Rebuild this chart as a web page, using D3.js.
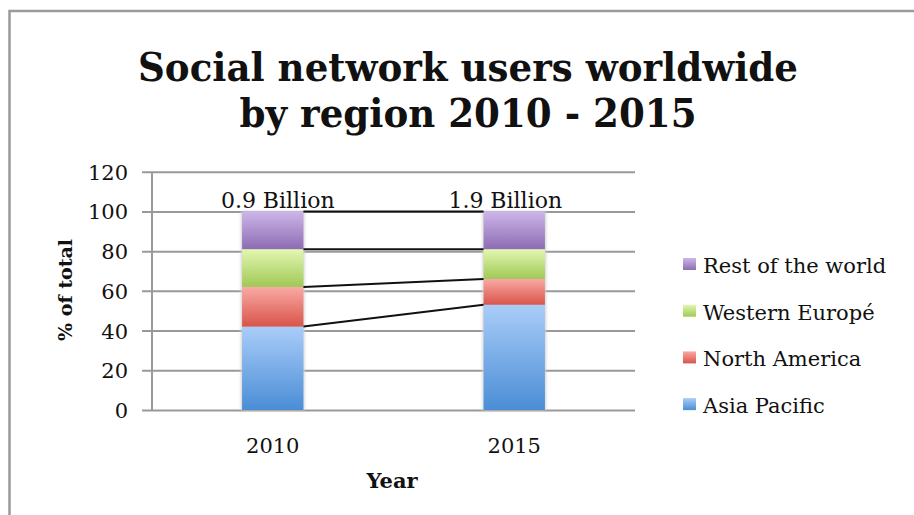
<!DOCTYPE html>
<html>
<head>
<meta charset="utf-8">
<script src="https://cdn.jsdelivr.net/npm/d3@7"></script>
<style>
  html, body { margin: 0; padding: 0; background: #fff; }
  svg { display: block; }
  text { font-family: "DejaVu Serif", serif; fill: #111; }
</style>
</head>
<body>
<svg id="chart" width="914" height="515"></svg>
<script>
// Share of social network users by region (% of total)
const years = ["2010", "2015"];
const regions = ["Asia Pacific", "North America", "Western Europé", "Rest of the world"];
const asiaPacific = [42, 53];
const northAmerica = [20, 13];
const westernEurope = [19, 15];
const restOfWorld = [19, 19];
const totals = ["0.9 Billion", "1.9 Billion"];
const yTicks = [0, 20, 40, 60, 80, 100, 120];

const seriesValues = [asiaPacific, northAmerica, westernEurope, restOfWorld];
const colors = [
  { top: "#aacdf9", bottom: "#4a8dd6" },
  { top: "#f9aaa4", bottom: "#d9544a" },
  { top: "#e3f7b2", bottom: "#a0c855" },
  { top: "#cdb6e8", bottom: "#8d6cb3" }
];

const table = years.map((y, i) => {
  const row = { year: y };
  regions.forEach((r, k) => { row[r] = seriesValues[k][i]; });
  return row;
});
const stacked = d3.stack().keys(regions)(table);

const svg = d3.select("#chart");
const plot = { left: 152, right: 635, top: 171.7, bottom: 410 };

const x = d3.scaleBand().domain(years).range([plot.left, plot.right]).padding(0);
const y = d3.scaleLinear().domain([0, 120]).range([plot.bottom, plot.top]);
const barW = x.bandwidth() * 0.254;
const cx = d => x(d) + x.bandwidth() / 2;

// gradients
const defs = svg.append("defs");
colors.forEach((c, k) => {
  const g = defs.append("linearGradient").attr("id", "grad" + k)
    .attr("x1", 0).attr("y1", 0).attr("x2", 0).attr("y2", 1);
  g.append("stop").attr("offset", "0%").attr("stop-color", c.top);
  g.append("stop").attr("offset", "100%").attr("stop-color", c.bottom);
});
const blur = defs.append("filter").attr("id", "soft").attr("x", "-20%").attr("width", "140%");
blur.append("feGaussianBlur").attr("stdDeviation", 1.5);

// outer frame
svg.append("rect").attr("x", 9.5).attr("y", 11).attr("width", 1000).attr("height", 1000)
  .attr("fill", "none").attr("stroke", "#9a9a9a").attr("stroke-width", 2.5);

// title (slightly condensed bold serif)
const title = svg.append("text").attr("text-anchor", "middle")
  .attr("transform", "translate(468,0) scale(0.93,1)")
  .style("font-weight", "bold").style("font-size", "40px");
title.append("tspan").attr("x", 0).attr("y", 81).text("Social network users worldwide");
title.append("tspan").attr("x", 0).attr("y", 127).text("by region 2010 - 2015");

// gridlines with tick stubs
const yAxis = d3.axisLeft(y).tickValues(yTicks).tickSize(-(plot.right - plot.left)).tickPadding(14);
const gy = svg.append("g").attr("transform", `translate(${plot.left},0)`).call(yAxis);
gy.select(".domain").remove();
gy.selectAll(".tick line").attr("x1", -10).attr("stroke", "#999").attr("stroke-width", 2);
gy.selectAll(".tick text").style("font-size", "21px").style("font-family", "DejaVu Serif, serif")
  .attr("fill", "#111").attr("dy", "0.36em").attr("x", -24);

// left axis line
svg.append("line").attr("x1", plot.left).attr("x2", plot.left)
  .attr("y1", y(120)).attr("y2", y(0)).attr("stroke", "#999").attr("stroke-width", 2);

// x axis labels
const xAxis = d3.axisBottom(x).tickSize(0).tickPadding(28);
const gx = svg.append("g").attr("transform", `translate(0,${plot.bottom})`).call(xAxis);
gx.select(".domain").remove();
gx.selectAll(".tick text").style("font-size", "21px").style("font-family", "DejaVu Serif, serif")
  .attr("fill", "#111");

// faint shadow behind bars
svg.append("g").selectAll("rect").data(years).join("rect")
  .attr("x", d => cx(d) - barW / 2 - 1).attr("width", barW + 2)
  .attr("y", y(100)).attr("height", y(0) - y(100))
  .attr("fill", "#cfcfcf").attr("filter", "url(#soft)");

// stacked bars
svg.append("g").selectAll("g").data(stacked).join("g")
  .attr("fill", (s, k) => `url(#grad${k})`)
  .selectAll("rect").data(s => s).join("rect")
  .attr("x", d => cx(d.data.year) - barW / 2)
  .attr("width", barW)
  .attr("y", d => y(d[1]))
  .attr("height", d => y(d[0]) - y(d[1]));

// series lines joining the segment tops
svg.append("g").selectAll("line").data(stacked).join("line")
  .attr("x1", cx(years[0]) + barW / 2)
  .attr("x2", cx(years[1]) - barW / 2)
  .attr("y1", s => y(s[0][1]))
  .attr("y2", s => y(s[1][1]))
  .attr("stroke", "#111").attr("stroke-width", 2);

// total user labels above bars
const labelShift = [5, -9];
svg.append("g").selectAll("text").data(years).join("text")
  .attr("x", (d, i) => cx(d) + labelShift[i])
  .attr("y", y(100) - 3)
  .attr("text-anchor", "middle").style("font-size", "22px")
  .text((d, i) => totals[i]);

// axis titles
svg.append("text").attr("x", 392).attr("y", 488).attr("text-anchor", "middle")
  .style("font-weight", "bold").style("font-size", "21px").text("Year");
svg.append("text").attr("transform", "translate(72,290) rotate(-90)").attr("text-anchor", "middle")
  .style("font-weight", "bold").style("font-size", "19px").text("% of total");

// legend (top to bottom: last series first)
const legendItems = regions.map((r, k) => ({ name: r, k })).reverse();
const lg = svg.append("g").selectAll("g").data(legendItems).join("g")
  .attr("transform", (d, i) => `translate(683,${273 + i * 46.7})`);
lg.append("rect").attr("x", 0).attr("y", -15).attr("width", 13).attr("height", 12)
  .attr("fill", d => `url(#grad${d.k})`);
lg.append("text").attr("x", 20).attr("y", 0).style("font-size", "21px").text(d => d.name);
</script>
</body>
</html>
